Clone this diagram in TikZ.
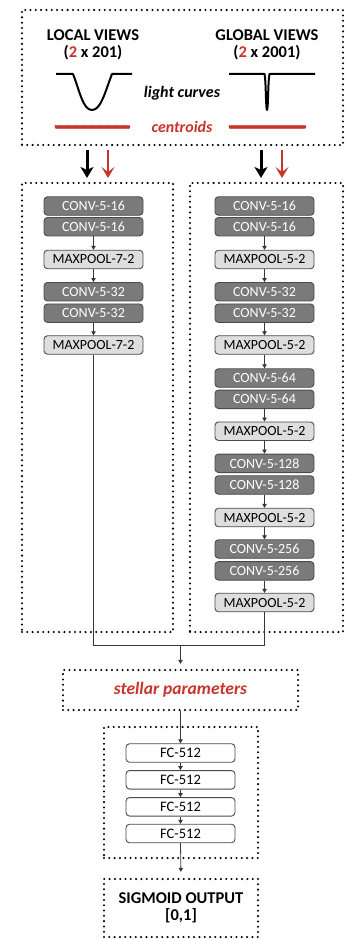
\documentclass[tikz,border=0pt]{standalone}
\usepackage{fontspec}
\setmainfont{Carlito}
\usetikzlibrary{arrows.meta,decorations.pathmorphing}
\definecolor{redc}{RGB}{200,52,42}
\definecolor{convfill}{RGB}{122,122,122}
\definecolor{convdraw}{RGB}{75,75,75}
\definecolor{poolfill}{RGB}{222,222,222}
\definecolor{linec}{RGB}{55,55,55}
\begin{document}
\begin{tikzpicture}[x=1pt,y=-1pt,
 frame/.style={draw, line width=2.3pt, dash pattern=on 0pt off 5.3pt, line cap=round, inner sep=0pt},
 layer/.style={draw=convdraw, line width=0.9pt, rounded corners=3.5pt, minimum width=99pt, minimum height=18.5pt, inner sep=0pt, font=\fontsize{14}{15}\selectfont},
 conv/.style={layer, fill=convfill, text=white},
 pool/.style={layer, fill=poolfill, text=black},
 fc/.style={layer, fill=white, minimum width=109pt, font=\fontsize{14.5}{15}\selectfont},
 conn/.style={draw=linec, line width=0.8pt},
 sarrow/.style={conn, -{Triangle[length=4pt,width=4.5pt]}},
 title/.style={font=\bfseries\fontsize{16.5}{17}\selectfont, align=center, inner sep=0pt},
 ital/.style={font=\bfseries\itshape\fontsize{16}{18}\selectfont, inner sep=0pt},
 curve/.style={line width=2pt, line join=round},
 cent/.style={draw=redc, line width=2.8pt, decorate, decoration={snake, amplitude=0.25pt, segment length=1.6pt}},
 bigblack/.style={line width=3pt, -{Stealth[length=11pt,width=13pt,inset=3pt]}},
 bigred/.style={draw=redc, line width=2pt, -{Stealth[length=11pt,width=13pt,inset=5pt]}}
]
\useasboundingbox (0,0) rectangle (345,939);

% input box
\node[frame, minimum width=321pt, minimum height=135pt] (inbox) at (182.5,77.5) {};
\node[title] (lv) at (93,44.5) {LOCAL VIEWS\\(\textcolor{redc}{2} x 201)};
\node[title] (gv) at (267,44.5) {GLOBAL VIEWS\\(\textcolor{redc}{2} x 2001)};
\node[ital] (lc) at (182,93) {light curves};
\node[ital, text=redc] (ce) at (182,127) {centroids};
\draw[curve] (56,74) -- (73,74) .. controls (80,92) and (83,110) .. (92,110) .. controls (101,110) and (105,92) .. (112,74) -- (132,74);
\draw[curve] (229,74) -- (264.5,74) .. controls (266,80) and (265.8,110) .. (267,110) .. controls (268.2,110) and (268,80) .. (269.5,74) -- (315,74);
\draw[cent] (55,127) -- (130,127);
\draw[cent] (229,127) -- (306,127);

% arrows into columns
\coordinate (lbs) at (87,150); \coordinate (lbe) at (87,178);
\coordinate (lrs) at (108,150); \coordinate (lre) at (108,178);
\coordinate (gbs) at (261,150); \coordinate (gbe) at (261,178);
\coordinate (grs) at (282,150); \coordinate (gre) at (282,178);
\draw[bigblack] (lbs) -- (lbe);
\draw[bigred] (lrs) -- (lre);
\draw[bigblack] (gbs) -- (gbe);
\draw[bigred] (grs) -- (gre);

% column frames
\node[frame, minimum width=151pt, minimum height=449pt] (lcol) at (97.5,407.5) {};
\node[frame, minimum width=153pt, minimum height=449pt] (rcol) at (266.5,407.5) {};

% left column
\node[conv] (L1) at (93.5,206) {CONV-5-16};
\node[conv] (L2) at (93.5,226.7) {CONV-5-16};
\node[pool] (L3) at (93.5,259.5) {MAXPOOL-7-2};
\node[conv] (L4) at (93.5,291.7) {CONV-5-32};
\node[conv] (L5) at (93.5,313.2) {CONV-5-32};
\node[pool] (L6) at (93.5,345) {MAXPOOL-7-2};
\draw[sarrow] (L2) -- (L3);
\draw[sarrow] (L3) -- (L4);
\draw[sarrow] (L5) -- (L6);

% right column
\node[conv] (R1) at (264.5,206) {CONV-5-16};
\node[conv] (R2) at (264.5,226.7) {CONV-5-16};
\node[pool] (R3) at (264.5,259.5) {MAXPOOL-5-2};
\node[conv] (R4) at (264.5,291.7) {CONV-5-32};
\node[conv] (R5) at (264.5,313.2) {CONV-5-32};
\node[pool] (R6) at (264.5,345) {MAXPOOL-5-2};
\node[conv] (R7) at (264.5,378) {CONV-5-64};
\node[conv] (R8) at (264.5,399.3) {CONV-5-64};
\node[pool] (R9) at (264.5,431.2) {MAXPOOL-5-2};
\node[conv] (R10) at (264.5,463.3) {CONV-5-128};
\node[conv] (R11) at (264.5,485) {CONV-5-128};
\node[pool] (R12) at (264.5,517.5) {MAXPOOL-5-2};
\node[conv] (R13) at (264.5,549) {CONV-5-256};
\node[conv] (R14) at (264.5,570.8) {CONV-5-256};
\node[pool] (R15) at (264.5,602.5) {MAXPOOL-5-2};
\draw[sarrow] (R2) -- (R3);
\draw[sarrow] (R3) -- (R4);
\draw[sarrow] (R5) -- (R6);
\draw[sarrow] (R6) -- (R7);
\draw[sarrow] (R8) -- (R9);
\draw[sarrow] (R9) -- (R10);
\draw[sarrow] (R11) -- (R12);
\draw[sarrow] (R12) -- (R13);
\draw[sarrow] (R14) -- (R15);

% merge
\coordinate (mid) at (180.5,645);
\draw[conn] (L6.south) -- (L6.south |- mid) -- (R15.south |- mid) -- (R15.south);

% stellar parameters
\node[frame, minimum width=235pt, minimum height=40pt, font=\bfseries\itshape\fontsize{17.5}{20}\selectfont, text=redc] (stellar) at (180.5,690) {stellar parameters};
\draw[sarrow, shorten >=5pt] (mid) -- (stellar.north);

% fully connected
\node[frame, minimum width=154pt, minimum height=131pt] (fcbox) at (181,792.5) {};
\node[fc] (F1) at (180.5,753) {FC-512};
\node[fc] (F2) at (180.5,779.8) {FC-512};
\node[fc] (F3) at (180.5,806.8) {FC-512};
\node[fc] (F4) at (180.5,833.5) {FC-512};
\draw[sarrow] (stellar.south) -- (F1.north);
\draw[sarrow] (F1) -- (F2);
\draw[sarrow] (F2) -- (F3);
\draw[sarrow] (F3) -- (F4);

% output
\node[frame, title, minimum width=154pt, minimum height=58pt] (sig) at (181,908) {SIGMOID OUTPUT\\{[}0,1{]}};
\draw[sarrow, shorten >=6pt] (F4.south) -- (sig.north);
\end{tikzpicture}
\end{document}
